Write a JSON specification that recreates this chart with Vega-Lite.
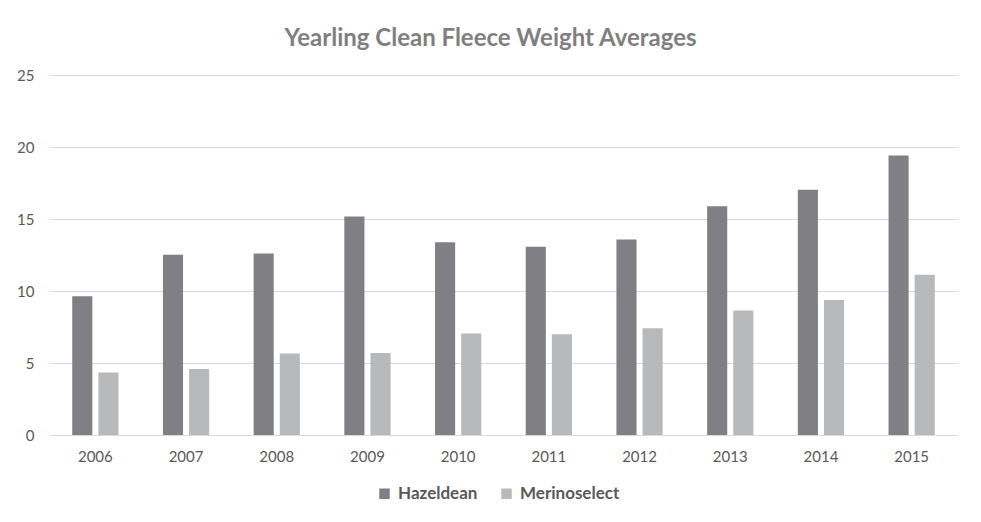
{
  "$schema": "https://vega.github.io/schema/vega-lite/v6.json",
  "autosize": {"type": "none"},
  "width": 907,
  "height": 360,
  "padding": {"left": 50, "top": 75, "right": 24, "bottom": 87},
  "background": "white",
  "title": {
    "text": "Yearling Clean Fleece Weight Averages",
    "font": "Lato",
    "fontSize": 24,
    "fontWeight": "bold",
    "color": "#7f7f7f",
    "anchor": "middle",
    "dx": -13,
    "offset": 17
  },
  "data": {
    "values": [
      {"year": "2006", "breed": "Hazeldean", "weight": 9.64},
      {"year": "2006", "breed": "Merinoselect", "weight": 4.34},
      {"year": "2007", "breed": "Hazeldean", "weight": 12.51},
      {"year": "2007", "breed": "Merinoselect", "weight": 4.59},
      {"year": "2008", "breed": "Hazeldean", "weight": 12.6},
      {"year": "2008", "breed": "Merinoselect", "weight": 5.66},
      {"year": "2009", "breed": "Hazeldean", "weight": 15.18},
      {"year": "2009", "breed": "Merinoselect", "weight": 5.7},
      {"year": "2010", "breed": "Hazeldean", "weight": 13.39},
      {"year": "2010", "breed": "Merinoselect", "weight": 7.05},
      {"year": "2011", "breed": "Hazeldean", "weight": 13.07},
      {"year": "2011", "breed": "Merinoselect", "weight": 7.0},
      {"year": "2012", "breed": "Hazeldean", "weight": 13.58},
      {"year": "2012", "breed": "Merinoselect", "weight": 7.41},
      {"year": "2013", "breed": "Hazeldean", "weight": 15.89},
      {"year": "2013", "breed": "Merinoselect", "weight": 8.64},
      {"year": "2014", "breed": "Hazeldean", "weight": 17.03},
      {"year": "2014", "breed": "Merinoselect", "weight": 9.38},
      {"year": "2015", "breed": "Hazeldean", "weight": 19.41},
      {"year": "2015", "breed": "Merinoselect", "weight": 11.12}
    ]
  },
  "mark": {"type": "bar"},
  "encoding": {
    "x": {
      "field": "year",
      "type": "nominal",
      "scale": {"paddingInner": 0.49, "paddingOuter": 0.245},
      "axis": {
        "title": null,
        "labelAngle": 0,
        "labelFont": "Lato",
        "labelFontSize": 15,
        "labelColor": "#595959",
        "labelPadding": 14,
        "ticks": false,
        "domainColor": "#d9d9d9",
        "domainWidth": 1
      }
    },
    "xOffset": {
      "field": "breed",
      "type": "nominal",
      "scale": {"paddingInner": 0.23, "paddingOuter": 0}
    },
    "y": {
      "field": "weight",
      "type": "quantitative",
      "scale": {"domain": [0, 25], "nice": false},
      "axis": {
        "title": null,
        "values": [0, 5, 10, 15, 20, 25],
        "labelFont": "Lato",
        "labelFontSize": 15,
        "labelColor": "#595959",
        "labelPadding": 16,
        "ticks": false,
        "domain": false,
        "gridColor": "#d9d9d9",
        "gridWidth": 1
      }
    },
    "color": {
      "field": "breed",
      "type": "nominal",
      "scale": {"domain": ["Hazeldean", "Merinoselect"], "range": ["#808084", "#b8b9ba"]},
      "legend": {
        "title": null,
        "orient": "none",
        "direction": "horizontal",
        "legendX": 326,
        "legendY": 410,
        "symbolType": "square",
        "symbolSize": 110,
        "symbolStrokeWidth": 0,
        "symbolOpacity": 1,
        "labelFont": "Lato",
        "labelFontSize": 17,
        "labelFontWeight": "bold",
        "labelColor": "#595959",
        "labelOffset": 5,
        "columnPadding": 20
      }
    }
  },
  "config": {
    "view": {"stroke": null},
    "axis": {"gridColor": "#d9d9d9"}
  }
}
